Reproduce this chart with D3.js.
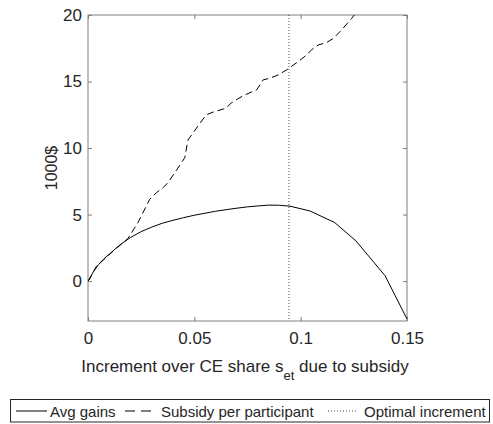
<!DOCTYPE html>
<html lang="en">
<head>
    <meta charset="UTF-8">
    <title>Avg gains vs subsidy</title>
    <script src="https://d3js.org/d3.v7.min.js"></script>
    <style>
        body {
            margin: 0;
            background: #fff;
        }
        svg text {
            font-family: "Liberation Sans", Arial, Helvetica, sans-serif;
            fill: #262626;
        }
    </style>
</head>
<body>
    <div id="chart"></div>

    <script>
        // values
        const gainsX = [0, 0.0025, 0.005, 0.0075, 0.01, 0.015, 0.02, 0.025, 0.03, 0.035, 0.04, 0.045, 0.05, 0.055,
                        0.06, 0.065, 0.07, 0.075, 0.08, 0.085, 0.09, 0.095, 0.1044, 0.116, 0.126, 0.1397, 0.15];
        const gainsY = [0, 0.7, 1.25, 1.68, 2.02, 2.72, 3.28, 3.72, 4.06, 4.35, 4.57, 4.77, 4.95, 5.1,
                        5.25, 5.37, 5.48, 5.58, 5.65, 5.71, 5.7, 5.63, 5.27, 4.4, 3.02, 0.4, -2.85];

        const subsidyX = [0, 0.0008, 0.0039, 0.0125, 0.0188, 0.0235, 0.029, 0.0321, 0.0353, 0.0376, 0.0423,
                          0.0455, 0.047, 0.051, 0.0556, 0.0588, 0.065, 0.0674, 0.0729, 0.0793, 0.0824, 0.0856,
                          0.0895, 0.0934, 0.0989, 0.1028, 0.1052, 0.1083, 0.1122, 0.1154, 0.1185, 0.124, 0.13];
        const subsidyY = [0, 0.15, 1.1, 2.35, 3.2, 4.4, 6.14, 6.64, 7.02, 7.4, 8.5,
                          9.27, 10.6, 11.5, 12.5, 12.7, 13.0, 13.4, 13.93, 14.38, 15.13, 15.25,
                          15.5, 15.88, 16.5, 17.0, 17.4, 17.75, 17.93, 18.25, 18.75, 19.75, 21.0];

        const optimalIncrement = 0.0945;

        const xTicks = [0, 0.05, 0.1, 0.15];
        const yTicks = [0, 5, 10, 15, 20];
        const legendLabels = ["Avg gains", "Subsidy per participant", "Optimal increment"];

        const width = 493, height = 424;
        const plotLeft = 88, plotRight = 407, plotTop = 15, plotBottom = 321;
        const axisColor = "#7f7f7f";

        const svg = d3.select("#chart").append("svg")
            .attr("width", width)
            .attr("height", height);

        const x = d3.scaleLinear().domain([0, 0.15]).range([plotLeft, plotRight]);
        const y = d3.scaleLinear().domain([-3, 20]).range([plotBottom, plotTop]);

        svg.append("defs").append("clipPath")
            .attr("id", "plot-clip")
            .append("rect")
            .attr("x", plotLeft).attr("y", plotTop)
            .attr("width", plotRight - plotLeft).attr("height", plotBottom - plotTop);

        const fmt = d => d === 0 ? "0" : String(d);

        // axes with inward ticks on all sides
        const xAxis = svg.append("g")
            .attr("transform", `translate(0,${plotBottom})`)
            .call(d3.axisBottom(x).tickValues(xTicks).tickFormat(fmt)
                .tickSizeInner(-4).tickSizeOuter(0).tickPadding(11));
        const xAxisTop = svg.append("g")
            .attr("transform", `translate(0,${plotTop})`)
            .call(d3.axisTop(x).tickValues(xTicks).tickFormat("")
                .tickSizeInner(-4).tickSizeOuter(0));
        const yAxis = svg.append("g")
            .attr("transform", `translate(${plotLeft},0)`)
            .call(d3.axisLeft(y).tickValues(yTicks).tickFormat(fmt)
                .tickSizeInner(-4).tickSizeOuter(0).tickPadding(6));
        const yAxisRight = svg.append("g")
            .attr("transform", `translate(${plotRight},0)`)
            .call(d3.axisRight(y).tickValues(yTicks).tickFormat("")
                .tickSizeInner(-4).tickSizeOuter(0));

        [xAxis, xAxisTop, yAxis, yAxisRight].forEach(g => {
            g.select(".domain").remove();
            g.selectAll(".tick line").attr("stroke", axisColor);
            g.selectAll("text")
                .style("font-size", "17px")
                .attr("fill", "#262626");
        });

        svg.append("rect")
            .attr("x", plotLeft).attr("y", plotTop)
            .attr("width", plotRight - plotLeft).attr("height", plotBottom - plotTop)
            .attr("fill", "none")
            .attr("stroke", axisColor)
            .attr("stroke-width", 1);

        const plot = svg.append("g").attr("clip-path", "url(#plot-clip)");

        const line = d3.line()
            .x(d => x(d[0]))
            .y(d => y(d[1]));

        plot.append("path")
            .datum(gainsX.map((v, i) => [v, gainsY[i]]))
            .attr("d", line)
            .attr("fill", "none")
            .attr("stroke", "#000")
            .attr("stroke-width", 1);

        plot.append("path")
            .datum(subsidyX.map((v, i) => [v, subsidyY[i]]))
            .attr("d", line)
            .attr("fill", "none")
            .attr("stroke", "#000")
            .attr("stroke-width", 1)
            .attr("stroke-dasharray", "7,4");

        plot.append("line")
            .attr("x1", x(optimalIncrement)).attr("x2", x(optimalIncrement))
            .attr("y1", y(20)).attr("y2", y(-3))
            .attr("stroke", "#444")
            .attr("stroke-width", 1)
            .attr("stroke-dasharray", "1,2");

        // axis labels
        const xLabel = svg.append("text")
            .attr("x", 245)
            .attr("y", 372)
            .attr("text-anchor", "middle")
            .style("font-size", "17px");
        xLabel.append("tspan").text("Increment over CE share s");
        xLabel.append("tspan").attr("dy", 8).style("font-size", "13px").text("et");
        xLabel.append("tspan").attr("dy", -8).text(" due to subsidy");

        svg.append("text")
            .attr("transform", `translate(57,${(plotTop + plotBottom) / 2}) rotate(-90)`)
            .attr("text-anchor", "middle")
            .style("font-size", "16px")
            .text("1000$");

        // legend
        const legend = svg.append("g");
        legend.append("rect")
            .attr("x", 10.5).attr("y", 399.5)
            .attr("width", 479).attr("height", 22.5)
            .attr("fill", "#fff")
            .attr("stroke", "#262626")
            .attr("stroke-width", 1);

        const legendItems = [
            { label: legendLabels[0], x1: 16, x2: 47, tx: 50, dash: null, color: "#000" },
            { label: legendLabels[1], x1: 125, x2: 153, tx: 161, dash: "10,6", color: "#000" },
            { label: legendLabels[2], x1: 328, x2: 358, tx: 364, dash: "1,2", color: "#444" }
        ];

        legendItems.forEach(d => {
            legend.append("line")
                .attr("x1", d.x1).attr("x2", d.x2)
                .attr("y1", 411).attr("y2", 411)
                .attr("stroke", d.color)
                .attr("stroke-width", 1)
                .attr("stroke-dasharray", d.dash);
            legend.append("text")
                .attr("x", d.tx)
                .attr("y", 416.5)
                .style("font-size", "15px")
                .text(d.label);
        });
    </script>
</body>
</html>
